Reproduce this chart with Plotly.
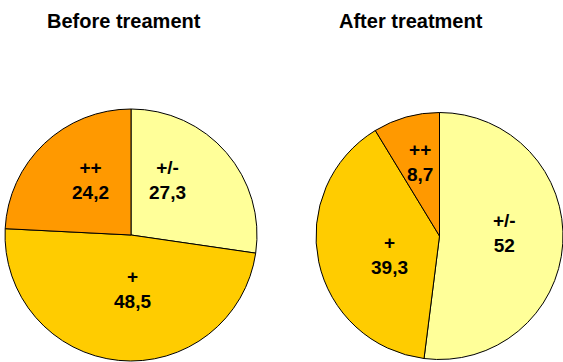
import plotly.graph_objects as go

# Response categories, listed clockwise from 12 o'clock
categories = ["+/-", "+", "++"]
before_values = [27.3, 48.5, 24.2]
after_values = [52, 39.3, 8.7]
titles = ["Before treament", "After treatment"]

colors = ["#FFFF99", "#FFCC00", "#FF9900"]
W, H = 563, 362
FONT = "Liberation Sans, Arial, sans-serif"

# Pie boxes in pixels: (left, right, top, bottom)
boxes = [(5, 257, 109, 361), (316, 563, 112, 360)]
title_x = [124, 411]
# Data label anchors, as offsets from the pie centre in units of the radius
# (x to the right, y downward), one per category
label_offsets = [
    [(0.286, -0.433), (0.008, 0.429), (-0.325, -0.433)],
    [(0.524, -0.028), (-0.403, 0.157), (-0.161, -0.597)],
]


def fmt(v):
    return f"{v:g}".replace(".", ",")


fig = go.Figure()
for values, (x0, x1, y0, y1), offsets in zip(
        [before_values, after_values], boxes, label_offsets):
    fig.add_trace(go.Pie(
        labels=categories,
        values=values,
        sort=False,
        direction="clockwise",
        rotation=0,
        marker=dict(colors=colors, line=dict(color="#000000", width=1)),
        textinfo="none",
        hoverinfo="label+value",
        showlegend=False,
        domain=dict(x=[x0 / W, x1 / W], y=[1 - y1 / H, 1 - y0 / H]),
    ))
    cx, cy = (x0 + x1) / 2, (y0 + y1) / 2
    r = min(x1 - x0, y1 - y0) / 2
    for cat, v, (ox, oy) in zip(categories, values, offsets):
        fig.add_annotation(
            text=f"<b>{cat}</b><br><b>{fmt(v)}</b>",
            x=(cx + ox * r) / W, y=1 - (cy + oy * r) / H,
            xref="paper", yref="paper", showarrow=False,
            xanchor="center", yanchor="middle", align="center",
            font=dict(family=FONT, size=19, color="#000000"),
        )

for title, tx in zip(titles, title_x):
    fig.add_annotation(
        text=f"<b>{title}</b>", x=tx / W, y=1 - 21 / H,
        xref="paper", yref="paper", showarrow=False,
        xanchor="center", yanchor="middle",
        font=dict(family=FONT, size=20, color="#000000"),
    )

fig.update_layout(
    width=W, height=H,
    margin=dict(l=0, r=0, t=0, b=0),
    paper_bgcolor="#FFFFFF",
    plot_bgcolor="#FFFFFF",
)

fig.write_html("out.html")
